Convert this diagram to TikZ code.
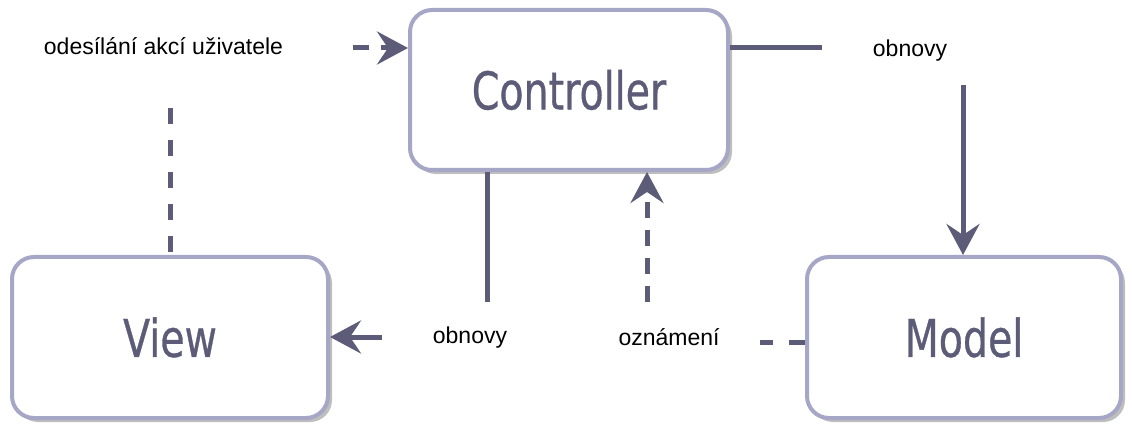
\documentclass[tikz,border=0pt]{standalone}
\usepackage{fontspec}
\setmainfont{Liberation Sans}
\newfontfamily\boxfont[FakeStretch=0.76,FakeBold=0.6]{DejaVu Sans}
\usetikzlibrary{arrows.meta,shadows,positioning}
\definecolor{boxline}{RGB}{166,166,198}
\definecolor{ink}{RGB}{92,92,120}
\definecolor{shade}{RGB}{190,190,190}

\begin{document}
\begin{tikzpicture}[x=1pt,y=-1pt]
\tikzstyle{main}=[rectangle, rounded corners=22pt, line width=4pt, draw=boxline, fill=white, text=ink, font=\boxfont\fontsize{52}{60}\selectfont, drop shadow={shadow xshift=4pt, shadow yshift=-4pt, fill=shade, opacity=1}]
\tikzstyle{lbl}=[anchor=base, inner sep=0pt, font=\fontsize{23}{27}\selectfont]
\tikzstyle{wire}=[line width=5pt, draw=ink]
\tikzstyle{dashwire}=[wire, dash pattern=on 16pt off 16pt]
\tikzstyle{dasharrow}=[wire, dash pattern=on 16pt off 12pt]
\tikzstyle{connect}=[-{Stealth[length=31pt,width=33pt,inset=11pt]}]
\useasboundingbox (0,0) rectangle (1132,430);
\node[main, minimum width=318pt, minimum height=160pt] (ctrl) at (569,90) {Controller};
\node[main, minimum width=316pt, minimum height=161pt] (view) at (170,337.5) {View};
\node[main, minimum width=314pt, minimum height=161pt] (model) at (964,337.5) {Model};
\node[lbl] (send) at (163.5,55) {odesílání akcí uživatele};
\node[lbl] (updr) at (910,57) {obnovy};
\node[lbl] (updb) at (470,343) {obnovy};
\node[lbl] (note) at (669,345) {oznámení};
% free ends of the connectors
\coordinate (s1) at (353,48);
\coordinate (s2) at (170,108);
\coordinate (r1) at (822,48);
\coordinate (r2) at (963,85);
\coordinate (b1) at (487,302);
\coordinate (b2) at (382,337);
\coordinate (n1) at (760,342);
\coordinate (n2) at (647,302);
\draw[dasharrow,connect] (s1) -- (s1 -| ctrl.west);
\draw[dashwire] (s2) -- (view.north);
\draw[wire] (r1 -| ctrl.east) -- (r1);
\draw[wire,connect] (r2) -- (r2 |- model.north);
\draw[wire] (b1 |- ctrl.south) -- (b1);
\draw[wire,connect] (b2) -- (b2 -| view.east);
\draw[dashwire] (n1 -| model.west) -- (n1);
\draw[dasharrow,connect] (n2) -- (n2 |- ctrl.south);
\end{tikzpicture}
\end{document}
